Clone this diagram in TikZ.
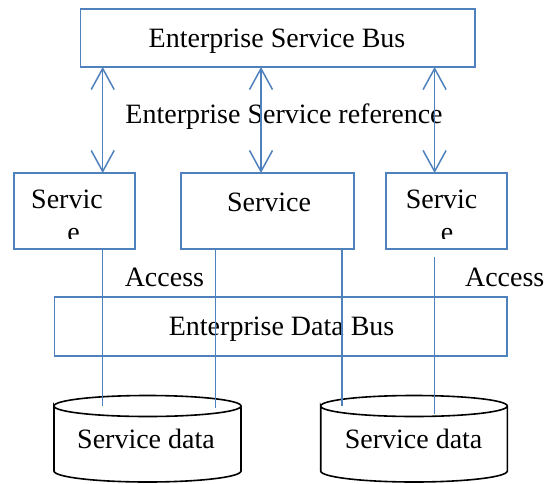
\documentclass[tikz,border=0pt]{standalone}
\usepackage{fontspec}
\setmainfont{Liberation Serif}
\usetikzlibrary{arrows.meta}
\definecolor{lineblue}{HTML}{4F81BD}
\tikzset{
  bluebox/.style={draw=lineblue, line width=1.4pt, inner sep=0pt},
  lbl/.style={font=\fontsize{28}{32}\selectfont, inner sep=0pt, anchor=base},
  link/.style={draw=lineblue, line width=1.5pt},
  biarrow/.style={link, {Straight Barb[length=21pt,width=23pt,line width=1.5pt]}-{Straight Barb[length=21pt,width=23pt,line width=1.5pt]}},
  drum/.style={draw=black, line width=1.6pt}
}
\begin{document}
\begin{tikzpicture}[x=1pt,y=-1pt]
\useasboundingbox (0,0) rectangle (547,483);
% boxes
\node[bluebox, minimum width=394.5pt, minimum height=58pt] (esb) at (277.8,38) {};
\node[bluebox, minimum width=121pt, minimum height=76pt] (s1) at (74.5,211) {};
\node[bluebox, minimum width=173pt, minimum height=76pt] (s2) at (267.5,211) {};
\node[bluebox, minimum width=121pt, minimum height=76pt] (s3) at (446.5,211) {};
\node[bluebox, minimum width=452.7pt, minimum height=59pt] (edb) at (280.7,326.5) {};
% texts
\node[lbl] (tesb) at (277,47) {Enterprise Service Bus};
\node[lbl] (tref) at (284,123) {Enterprise Service reference};
\node[lbl] (ts1) at (67,208) {Servic};
\node[lbl] (ts2) at (269,211) {Service};
\node[lbl] (ts3) at (441.6,208) {Servic};
\begin{scope}
\clip (14,173) rectangle (507,238.5);
\node[lbl] (te1) at (73.5,241) {e};
\node[lbl] (te3) at (447,241) {e};
\end{scope}
\node[lbl] (acc1) at (164.4,286) {Access};
\node[lbl] (acc2) at (504.7,286) {Access};
\node[lbl] (tedb) at (281.6,335) {Enterprise Data Bus};
% cylinders
\draw[drum] (54,406) arc[start angle=180,end angle=-180,x radius=93.5pt,y radius=10.5pt]
  -- (54,471) arc[start angle=180,end angle=360,x radius=93.5pt,y radius=11pt] -- (241,406);
\draw[drum] (320.7,406) arc[start angle=180,end angle=-180,x radius=93.3pt,y radius=10.5pt]
  -- (320.7,471) arc[start angle=180,end angle=360,x radius=93.3pt,y radius=11pt] -- (507.3,406);
\node[lbl] (d1) at (146,448) {Service data};
\node[lbl] (d2) at (413.6,448) {Service data};
% connectors
\coordinate (a1t) at (102.7,67);  \coordinate (a1b) at (102.7,173);
\coordinate (a2t) at (261,67);    \coordinate (a2b) at (261,173);
\coordinate (a3t) at (434.6,67);  \coordinate (a3b) at (434.6,173);
\draw[biarrow] (a1t) -- (a1b);
\draw[biarrow] (a2t) -- (a2b);
\draw[biarrow] (a3t) -- (a3b);
\coordinate (l1t) at (102.7,249); \coordinate (l1b) at (102.7,406);
\coordinate (l2t) at (215.6,249); \coordinate (l2b) at (215.6,408);
\coordinate (l3t) at (342,249);   \coordinate (l3b) at (342,406);
\coordinate (l4t) at (434.6,257); \coordinate (l4b) at (434.6,414);
\draw[link] (l1t) -- (l1b);
\draw[link] (l2t) -- (l2b);
\draw[link] (l3t) -- (l3b);
\draw[link] (l4t) -- (l4b);
\end{tikzpicture}
\end{document}
